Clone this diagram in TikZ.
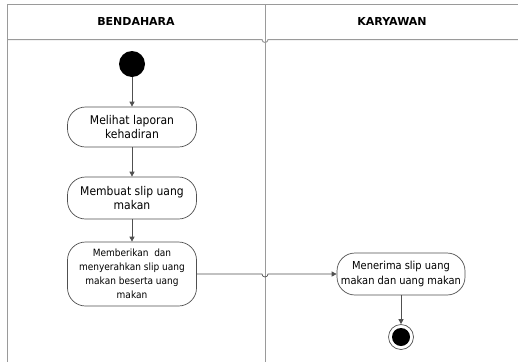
\documentclass[tikz,border=0pt]{standalone}
\usepackage{fontspec}
\setmainfont{DejaVu Sans Condensed}
\newfontfamily\headfont{DejaVu Sans}
\usetikzlibrary{arrows.meta}
\definecolor{frame}{HTML}{9A9A9A}
\definecolor{edge}{HTML}{505050}
\tikzset{
  lane/.style={draw=frame, line width=1pt},
  act/.style={draw=edge, line width=0.7pt, rounded corners=18pt, fill=white,
    align=center, inner sep=0pt, font=\fontsize{12}{14.5}\selectfont},
  flow/.style={draw=edge, line width=0.7pt, -{Triangle[length=5pt,width=5pt]}},
  title/.style={font=\headfont\bfseries\fontsize{11}{13}\selectfont, text=black},
}
\begin{document}
\begin{tikzpicture}[x=1pt,y=-1pt]
\useasboundingbox (0,0) rectangle (518,362);
% swimlane frame
\draw[lane] (518,4) -- (7.5,4) -- (7.5,362);
\draw[lane] (7.5,39.5) -- (262,39.5) arc[start angle=180,end angle=0,radius=3] -- (518,39.5);
\draw[lane] (265,4) -- (265,362);
\node[title] (h1) at (136,21) {BENDAHARA};
\node[title] (h2) at (392,21) {KARYAWAN};
% activities
\node[circle, fill=black, minimum size=26pt, inner sep=0pt] (start) at (132,64) {};
\node[act, minimum width=129pt, minimum height=40pt] (a1) at (132,127) {Melihat laporan\\kehadiran};
\node[act, minimum width=129pt, minimum height=42pt] (a2) at (132,198) {Membuat slip uang\\makan};
\node[act, minimum width=129pt, minimum height=64pt, font=\fontsize{10}{14}\selectfont] (a3) at (132,274) {Memberikan~ dan\\menyerahkan slip uang\\makan beserta uang\\makan};
\node[act, minimum width=128pt, minimum height=42pt, font=\fontsize{11}{15}\selectfont] (a4) at (401,274) {Menerima slip uang\\makan dan uang makan};
\node[circle, draw=edge, line width=0.7pt, fill=white, minimum size=25pt, inner sep=0pt] (end) at (401,337) {};
\node[circle, fill=black, minimum size=18pt, inner sep=0pt] (endin) at (end.center) {};
% flows
\draw[flow] (start) -- (a1);
\draw[flow] (a1) -- (a2);
\draw[flow] (a2) -- (a3);
\coordinate (hopL) at (262,274);
\draw[flow] (a3.east) -- (hopL) arc[start angle=180,end angle=0,radius=3] -- (a4.west);
\draw[flow] (a4) -- (end);
\end{tikzpicture}
\end{document}
